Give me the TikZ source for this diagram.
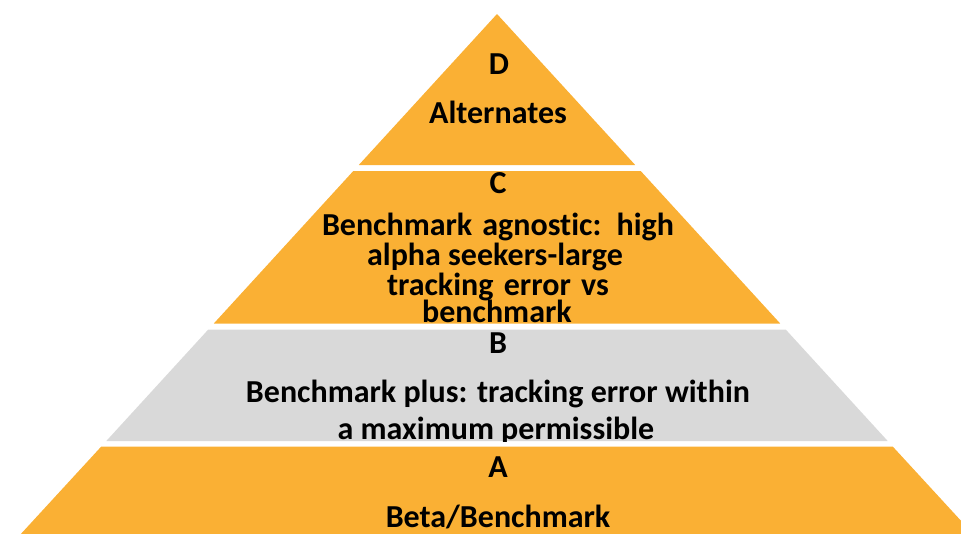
\documentclass[tikz,border=0pt]{standalone}
\usepackage{fontspec}
\setmainfont{Carlito}[Ligatures=NoCommon]
\definecolor{pyrorange}{RGB}{250,176,52}
\definecolor{pyrgray}{RGB}{217,217,217}
\begin{document}
\begin{tikzpicture}[x=1pt,y=-1pt,
  txt/.style={font=\fontsize{32}{32}\selectfont\bfseries, anchor=base, inner sep=0pt, text=black},
  orangelayer/.style={fill=pyrorange},
  graylayer/.style={fill=pyrgray}]
\useasboundingbox (0,0) rectangle (961,533);
\begin{scope}
\clip (0,0) rectangle (961,533);
% D
\path[orangelayer] (497,14) -- (635.2,165) -- (358.8,165) -- cycle;
% C
\path[orangelayer] (353.3,171) -- (640.7,171) -- (780.2,323.5) -- (213.8,323.5) -- cycle;
% B
\path[graylayer] (208.3,329.5) -- (785.7,329.5) -- (887.7,441) -- (106.3,441) -- cycle;
% A
\path[orangelayer] (101.3,446.5) -- (892.7,446.5) -- (975,536) -- (19,536) -- cycle;
\end{scope}
% D text
\begin{scope}
\clip (497,14) -- (635.2,165) -- (358.8,165) -- cycle;
\node[txt] (dlabel) at (499,74) {D};
\node[txt] (dtext) at (498,123) {Alternates};
\end{scope}
% C text
\begin{scope}
\clip (353.3,171) -- (640.7,171) -- (780.2,323.5) -- (213.8,323.5) -- cycle;
\node[txt] (clabel) at (498,193) {C};
\node[txt] (ctext1) at (498,235) {\makebox[352pt][s]{Benchmark agnostic: high}};
\node[txt] (ctext2) at (495,265) {alpha seekers-large};
\node[txt] (ctext3) at (498,295) {\makebox[222pt][s]{tracking error vs}};
\node[txt] (ctext4) at (497,322) {benchmark};
\end{scope}
% B text
\begin{scope}
\clip (208.3,329.5) -- (785.7,329.5) -- (887.7,441) -- (106.3,441) -- cycle;
\node[txt] (blabel) at (498,353) {B};
\node[txt] (btext1) at (498,402) {Benchmark plus: tracking error within};
\node[txt] (btext2) at (496,439) {a maximum permissible};
\end{scope}
% A text
\begin{scope}
\clip (101.3,446.5) -- (892.7,446.5) -- (975,536) -- (19,536) -- cycle;
\node[txt] (alabel) at (498,477) {A};
\node[txt] (atext) at (498,527) {Beta/Benchmark};
\end{scope}
\end{tikzpicture}
\end{document}
